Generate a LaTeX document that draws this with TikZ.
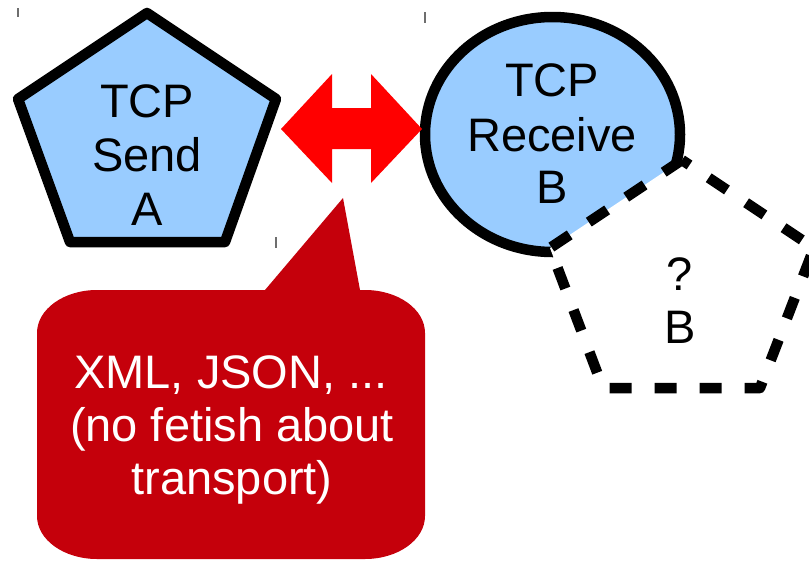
\documentclass[tikz,border=0pt]{standalone}
\usepackage{fontspec}
\setmainfont{Liberation Sans}
\begin{document}
\begin{tikzpicture}[x=1pt,y=-1pt]
  \definecolor{paleblue}{RGB}{153,204,255}
  \definecolor{calloutred}{RGB}{197,0,11}
  \definecolor{handlegray}{RGB}{110,110,110}
  \tikzset{
    outline/.style={draw=black, line width=10.5pt, line join=round},
    dashedline/.style={outline, dash pattern=on 22pt off 23pt},
    txt/.style={font=\fontsize{47}{54}\selectfont, inner sep=0pt, anchor=base},
    whitetxt/.style={txt, text=white},
    handle/.style={draw=handlegray, line width=1.3pt},
  }
  \useasboundingbox (0,0) rectangle (809,560);
  \clip (0,0) rectangle (809,560);

  % sender pentagon
  \coordinate (sa1) at (147,13);
  \coordinate (sa2) at (18,99);
  \coordinate (sa3) at (70,242);
  \coordinate (sa4) at (225,242);
  \coordinate (sa5) at (276,99);
  \draw[outline, fill=paleblue] (sa1) -- (sa2) -- (sa3) -- (sa4) -- (sa5) -- cycle;
  \node[txt] (sendl1) at (147,117) {TCP};
  \node[txt] (sendl2) at (147,171) {Send};
  \node[txt] (sendl3) at (147,225) {A};

  % receiver disc
  \coordinate (rc) at (552.5,134.5);
  \draw[outline, fill=paleblue] (rc) ellipse [x radius=127.5pt, y radius=117.5pt];
  \node[txt] (recvl1) at (552,96) {TCP};
  \node[txt] (recvl2) at (552,151) {Receive};
  \node[txt] (recvl3) at (552,203) {B};

  % unknown peer, drawn over the disc
  \coordinate (qb1) at (682,160);
  \coordinate (qb2) at (550,248);
  \coordinate (qb3) at (603,388);
  \coordinate (qb4) at (760,388);
  \coordinate (qb5) at (814,248);
  \fill[white] (qb1) -- (qb2) -- (qb3) -- (qb4) -- (qb5) -- cycle;
  \draw[dashedline] (qb1) -- (qb2) -- (qb3) -- (qb4) -- (qb5) -- cycle;
  \node[txt] (unkl1) at (680,290) {?};
  \node[txt] (unkl2) at (680,343) {B};

  % double-headed block arrow between sender and receiver
  \coordinate (arL) at (281,129);
  \coordinate (arR) at (422,129);
  \fill[red] (arL) -- (332,74) -- (332,108) -- (371,108) -- (371,74) -- (arR)
    -- (371,183) -- (371,149) -- (332,149) -- (332,183) -- cycle;

  % speech bubble
  \coordinate (tip) at (343,198);
  \fill[calloutred] (37,333)
    arc[start angle=180, end angle=90, x radius=60pt, y radius=43pt]
    -- (265,290) -- (tip) -- (360,290) -- (365,290)
    arc[start angle=90, end angle=0, x radius=60pt, y radius=43pt]
    -- (425,516)
    arc[start angle=0, end angle=-90, x radius=60pt, y radius=43pt]
    -- (97,559)
    arc[start angle=270, end angle=180, x radius=60pt, y radius=43pt]
    -- cycle;
  \node[whitetxt] (bub1) at (231,388) {XML, JSON, ...};
  \node[whitetxt] (bub2) at (232,441) {(no fetish about};
  \node[whitetxt] (bub3) at (232,494) {transport)};

  % small selection handles
  \draw[handle] (18,8) -- (18,17);
  \draw[handle] (425,12) -- (425,23);
  \draw[handle] (276,237) -- (276,248);
\end{tikzpicture}
\end{document}
